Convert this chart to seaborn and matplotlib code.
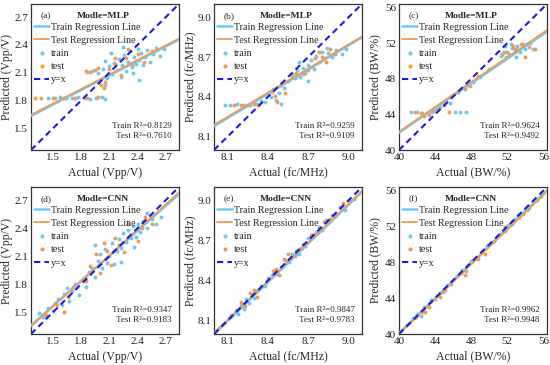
"""Actual vs predicted scatter grid (MLP / CNN) for Vpp, fc and BW."""

import matplotlib
matplotlib.use("Agg")

import numpy as np
import pandas as pd
import matplotlib.pyplot as plt
import seaborn as sns
from matplotlib.lines import Line2D

# ── data (representative points) ────────────────────────────────────────
a_train = [(1.45, 1.83), (1.52, 1.83), (1.58, 1.84), (1.64, 1.83), (1.71, 1.83), (1.77, 1.84),
           (1.84, 1.83), (1.90, 1.82), (1.96, 1.83), (2.02, 1.84), (2.06, 1.82), (1.86, 2.11),
           (1.92, 2.12), (1.98, 2.10), (2.03, 2.14), (2.06, 1.97), (2.08, 2.04), (2.10, 2.17),
           (2.13, 2.09), (2.15, 2.21), (2.18, 2.13), (2.20, 2.25), (2.22, 2.05), (2.24, 2.18),
           (2.26, 2.29), (2.28, 2.12), (2.30, 2.22), (2.32, 2.33), (2.34, 2.16), (2.36, 2.27),
           (2.38, 2.20), (2.40, 2.36), (2.42, 2.24), (2.44, 2.31), (2.46, 2.18), (2.48, 2.27),
           (2.50, 2.35), (2.53, 2.22), (2.56, 2.30), (2.60, 2.37), (2.64, 2.28), (2.68, 2.36),
           (2.42, 2.02), (2.25, 2.38), (2.12, 2.31), (2.35, 2.10), (1.99, 2.00), (2.05, 2.23)]
a_test = [(1.31, 1.83), (1.38, 1.83), (1.50, 1.83), (1.62, 1.83), (1.74, 1.83), (1.86, 1.83),
          (1.98, 1.84), (1.85, 2.12), (1.90, 2.11), (1.95, 2.13), (2.01, 1.97), (2.04, 1.94),
          (2.06, 2.00), (2.10, 2.14), (2.16, 2.20), (2.22, 2.08), (2.28, 2.26), (2.34, 2.18),
          (2.40, 2.30), (2.47, 2.22), (2.55, 2.33), (2.16, 2.26), (2.30, 2.36), (1.98, 2.15)]

b_train = [(8.08, 8.34), (8.12, 8.34), (8.17, 8.35), (8.22, 8.34), (8.27, 8.34), (8.32, 8.35),
           (8.35, 8.37), (8.38, 8.36), (8.42, 8.40), (8.44, 8.46), (8.46, 8.38), (8.48, 8.43),
           (8.50, 8.35), (8.52, 8.47), (8.55, 8.52), (8.58, 8.57), (8.60, 8.54), (8.62, 8.60),
           (8.64, 8.55), (8.66, 8.62), (8.68, 8.58), (8.70, 8.64), (8.72, 8.68), (8.74, 8.61),
           (8.76, 8.71), (8.78, 8.66), (8.80, 8.74), (8.82, 8.69), (8.85, 8.73), (8.88, 8.70),
           (8.91, 8.75), (8.95, 8.72), (8.98, 8.76), (8.70, 8.52), (8.63, 8.66), (8.84, 8.77)]
b_test = [(8.15, 8.34), (8.20, 8.34), (8.25, 8.34), (8.30, 8.35), (8.33, 8.34), (8.43, 8.44),
          (8.45, 8.41), (8.47, 8.36), (8.50, 8.49), (8.53, 8.43), (8.58, 8.55), (8.61, 8.58),
          (8.66, 8.57), (8.70, 8.60), (8.75, 8.69), (8.78, 8.74), (8.80, 8.70), (8.83, 8.66),
          (8.86, 8.76), (8.90, 8.72)]

c_train = [(41.3, 44.3), (42.0, 44.3), (42.6, 44.2), (43.2, 44.3), (43.9, 44.4), (44.5, 44.8),
           (45.0, 45.2), (45.6, 45.3), (46.2, 44.3), (46.8, 44.3), (47.4, 44.3), (46.5, 46.5),
           (47.3, 46.9), (48.2, 47.6), (49.0, 48.2), (50.0, 49.1), (51.3, 50.6), (51.6, 51.0),
           (51.9, 50.4), (52.2, 50.8), (52.5, 51.5), (52.8, 51.2), (53.1, 51.7), (53.4, 51.0),
           (53.7, 51.9), (54.0, 51.4), (54.2, 51.9), (54.5, 52.0), (54.8, 51.3), (53.0, 50.5),
           (51.8, 51.7), (52.4, 51.9)]
c_test = [(41.8, 44.3), (42.4, 44.2), (42.8, 43.8), (43.3, 43.9), (43.7, 44.3), (44.2, 44.6),
          (45.0, 45.0), (45.5, 44.3), (47.3, 47.0), (47.9, 47.2), (48.8, 48.3), (51.4, 50.8),
          (52.0, 51.0), (52.6, 51.7), (53.0, 51.4), (53.5, 51.9), (54.0, 50.5), (54.4, 51.6),
          (55.1, 51.3)]

d_train = [(1.36, 1.49), (1.40, 1.45), (1.45, 1.55), (1.50, 1.52), (1.52, 1.60), (1.56, 1.64),
           (1.60, 1.58), (1.62, 1.70), (1.65, 1.76), (1.67, 1.62), (1.70, 1.73), (1.74, 1.80),
           (1.78, 1.69), (1.82, 1.86), (1.85, 1.77), (1.88, 1.93), (1.92, 1.98), (1.95, 1.88),
           (1.98, 2.05), (2.00, 2.12), (2.02, 1.97), (2.05, 2.18), (2.08, 2.03), (2.10, 2.10),
           (2.13, 2.24), (2.15, 2.02), (2.18, 2.16), (2.20, 2.28), (2.23, 2.19), (2.25, 2.35),
           (2.28, 2.25), (2.30, 2.38), (2.33, 2.29), (2.35, 2.42), (2.38, 2.31), (2.40, 2.45),
           (2.43, 2.36), (2.46, 2.48), (2.50, 2.40), (2.55, 2.50), (2.60, 2.44), (2.65, 2.52),
           (1.95, 2.22), (2.22, 2.04), (2.36, 2.20), (2.50, 2.56)]
d_test = [(1.43, 1.47), (1.55, 1.58), (1.62, 1.50), (1.66, 1.66), (1.72, 1.77), (1.85, 1.84),
          (1.90, 2.00), (1.96, 2.12), (2.00, 1.92), (2.04, 2.24), (2.08, 2.16), (2.12, 2.01),
          (2.16, 2.30), (2.20, 2.22), (2.26, 2.15), (2.30, 2.45), (2.34, 2.34), (2.40, 2.26),
          (2.45, 2.40), (2.48, 2.52), (2.55, 2.45)]

e_train = [(8.13, 8.14), (8.16, 8.18), (8.18, 8.15), (8.20, 8.22), (8.22, 8.19), (8.24, 8.26),
           (8.26, 8.23), (8.28, 8.30), (8.30, 8.27), (8.32, 8.33), (8.35, 8.36), (8.38, 8.36),
           (8.40, 8.42), (8.43, 8.44), (8.45, 8.47), (8.47, 8.45), (8.50, 8.50), (8.53, 8.55),
           (8.56, 8.54), (8.58, 8.60), (8.61, 8.62), (8.63, 8.60), (8.66, 8.67), (8.68, 8.66),
           (8.70, 8.72), (8.73, 8.74), (8.76, 8.76), (8.78, 8.80), (8.80, 8.78), (8.83, 8.85),
           (8.85, 8.83), (8.88, 8.89), (8.91, 8.89), (8.94, 8.95), (8.97, 8.93), (9.00, 9.00),
           (9.04, 9.01)]
e_test = [(8.20, 8.24), (8.23, 8.21), (8.27, 8.31), (8.30, 8.33), (8.32, 8.28), (8.44, 8.47),
          (8.46, 8.49), (8.48, 8.44), (8.52, 8.56), (8.55, 8.60), (8.60, 8.58), (8.65, 8.64),
          (8.72, 8.74), (8.78, 8.77), (8.82, 8.84), (8.86, 8.86), (8.90, 8.88), (8.96, 8.98)]

f_train = [(41.5, 41.8), (42.0, 42.2), (42.4, 42.0), (42.8, 43.0), (43.2, 43.1), (43.6, 43.8),
           (44.0, 43.9), (44.5, 44.6), (44.9, 44.7), (45.3, 45.5), (45.8, 45.6), (46.4, 46.5),
           (47.0, 47.1), (47.4, 47.0), (48.0, 48.1), (48.6, 48.5), (49.2, 49.1), (49.8, 49.8),
           (50.5, 50.4), (51.2, 51.2), (51.7, 51.5), (52.1, 52.2), (52.5, 52.3), (52.9, 52.8),
           (53.3, 53.4), (53.7, 53.5), (54.0, 54.0), (54.4, 54.1), (54.8, 54.7), (55.3, 55.0),
           (55.7, 55.4)]
f_test = [(41.9, 41.9), (42.5, 42.4), (42.9, 42.5), (43.3, 43.0), (44.5, 44.1), (45.1, 44.9),
          (46.9, 46.8), (47.3, 46.6), (48.7, 48.4), (49.5, 48.9), (51.8, 51.9), (52.6, 52.5),
          (53.3, 53.1), (53.7, 53.4), (54.2, 53.8)]

# regression lines: (slope, intercept)
train_fits = [(0.524, 0.971), (0.609, 3.308), (0.692, 14.27),
              (0.894, 0.226), (0.968, 0.255), (0.970, 1.30)]
test_fits = [(0.522, 0.985), (0.606, 3.341), (0.696, 14.21),
             (0.912, 0.193), (0.964, 0.298), (0.970, 1.20)]

train_r2 = ["0.8129", "0.9259", "0.9624", "0.9347", "0.9847", "0.9962"]
test_r2 = ["0.7610", "0.9109", "0.9492", "0.9183", "0.9783", "0.9948"]
panel_tags = ["(a)", "(b)", "(c)", "(d)", "(e)", "(f)"]
models = ["MLP", "MLP", "MLP", "CNN", "CNN", "CNN"]
targets = ["Vpp/V", "fc/MHz", "BW/%"] * 2
axis_lims = [(1.27, 2.84), (8.0, 9.1), (40, 56.4)] * 2
axis_ticks = [[1.5, 1.8, 2.1, 2.4, 2.7], [8.1, 8.4, 8.7, 9.0], [40, 44, 48, 52, 56]] * 2

train_sets = [a_train, b_train, c_train, d_train, e_train, f_train]
test_sets = [a_test, b_test, c_test, d_test, e_test, f_test]

TRAIN_C = "#6CC9F2"
TEST_C = "#F59A52"
DIAG_C = "#1B1BE0"

sns.set_theme(style="white")
plt.rcParams.update({
    "font.family": ["Liberation Serif", "DejaVu Serif"],
    "axes.edgecolor": "#333333",
    "axes.linewidth": 0.9,
    "xtick.color": "#222222",
    "ytick.color": "#222222",
})

fig = plt.figure(figsize=(5.5, 3.65), dpi=100)
W, H = 550, 365
lefts = [31, 214, 399]
rows = [(4, 150), (187, 334)]

for i in range(6):
    r, c = divmod(i, 3)
    top, bot = rows[r]
    ax = fig.add_axes([lefts[c] / W, 1 - bot / H, 148 / W, (bot - top) / H])

    tr = pd.DataFrame(train_sets[i], columns=["actual", "pred"])
    te = pd.DataFrame(test_sets[i], columns=["actual", "pred"])
    sns.scatterplot(data=tr, x="actual", y="pred", ax=ax, color=TRAIN_C, s=8,
                    linewidth=0, zorder=2)
    sns.scatterplot(data=te, x="actual", y="pred", ax=ax, color=TEST_C, s=8,
                    linewidth=0, zorder=3)

    m, b = train_fits[i]
    ax.axline((0, b), slope=m, color=TRAIN_C, lw=1.8, zorder=4)
    m, b = test_fits[i]
    ax.axline((0, b), slope=m, color=TEST_C, lw=1.3, zorder=5)
    ax.axline((0, 0), slope=1, color=DIAG_C, lw=1.5, ls=(0, (3, 2)), zorder=6)

    lo, hi = axis_lims[i]
    ax.set_xlim(lo, hi)
    ax.set_ylim(lo, hi)
    ax.set_xticks(axis_ticks[i])
    ax.set_yticks(axis_ticks[i])
    ax.tick_params(labelsize=8, length=2, direction="in", pad=2)
    ax.set_xlabel(f"Actual ({targets[i]})", fontsize=8.5)
    ax.set_ylabel(f"Predicted ({targets[i]})", fontsize=8.4)
    ax.xaxis.set_label_coords(0.5, -0.155)
    ax.yaxis.set_label_coords(-0.163, 0.5)
    ax.xaxis.label.set_va("center")
    ax.yaxis.label.set_va("center")

    ax.text(0.068, 0.945, panel_tags[i], transform=ax.transAxes, fontsize=6.8, va="top")
    ax.text(0.485, 0.945, f"Modle={models[i]}", transform=ax.transAxes, fontsize=6.8,
            va="top", ha="center", fontweight="bold")

    handles = [
        Line2D([], [], color=TRAIN_C, lw=1.8),
        Line2D([], [], color=TEST_C, lw=1.3),
        Line2D([], [], color=TRAIN_C, marker="o", ms=2, lw=0),
        Line2D([], [], color=TEST_C, marker="o", ms=2, lw=0),
        Line2D([], [], color=DIAG_C, lw=1.5, ls=(0, (3, 2))),
    ]
    labels = ["Train Regression Line", "Test Regression Line", "train", "test", "y=x"]
    ax.legend(handles, labels, loc="upper left", bbox_to_anchor=(-0.005, 0.9),
              frameon=False, fontsize=7.2, handlelength=1.45, handletextpad=0.25,
              labelspacing=0.42, borderaxespad=0.2, borderpad=0.2)

    ax.text(0.95, 0.165, f"Train R²={train_r2[i]}", transform=ax.transAxes,
            fontsize=6.5, ha="right", va="center")
    ax.text(0.95, 0.095, f"Test R²={test_r2[i]}", transform=ax.transAxes,
            fontsize=6.5, ha="right", va="center")

fig.savefig("out.png", dpi=100)
